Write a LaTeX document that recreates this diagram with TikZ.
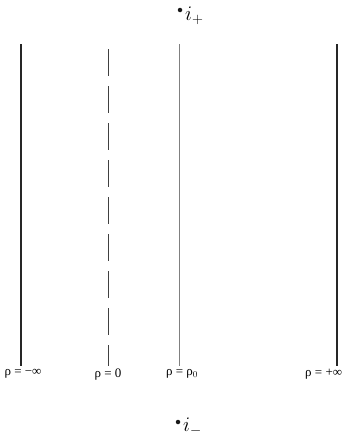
\documentclass[tikz,border=0pt]{standalone}
\usepackage{fontspec}
\newfontfamily\lblfont{Liberation Serif}
\usetikzlibrary{positioning}

\begin{document}
\begin{tikzpicture}[
    x=1pt, y=-1pt,
    boundary/.style={line width=1.8pt, black!85},
    worldline/.style={line width=1pt, black!50},
    horizon/.style={line width=0.9pt, black!75, dash pattern=on 27pt off 10pt, dash phase=-3pt},
    rholabel/.style={font=\lblfont\fontsize{13}{15}\selectfont, inner sep=3pt, anchor=north},
    infpoint/.style={circle, fill=black!90, inner sep=0pt, minimum size=4.5pt},
    inflabel/.style={font=\fontsize{20}{22}\selectfont, inner sep=0pt, anchor=base west}
]
\useasboundingbox (0,0) rectangle (364,439);

% points at infinity
\node[infpoint] (top) at (180,10) {};
\node[inflabel] (iplus) at (185,20) {$i_{+}$};
\node[infpoint] (bottom) at (178,422) {};
\node[inflabel] (iminus) at (183,431) {$i_{-}$};

% labels at the foot of each line
\node[rholabel] (minf) at (23,366) {ρ = −∞};
\node[rholabel] (zero) at (108,366) {ρ = 0};
\node[rholabel] (rhozero) at (182,366) {ρ = ρ$_0$};
\node[rholabel, anchor=north west] (pinf) at (302,366) {ρ = +∞};

\coordinate (minf top) at (21,44);
\coordinate (zero top) at (108,46);
\coordinate (rhozero top) at (179,44);
\coordinate (pinf top) at (337,44);

\draw[boundary] (minf top) -- (minf top |- minf.north);
\draw[horizon] (zero top) -- (zero top |- zero.north);
\draw[worldline] (rhozero top) -- (rhozero top |- rhozero.north);
\draw[boundary] (pinf top) -- (pinf top |- pinf.north);

\end{tikzpicture}
\end{document}
